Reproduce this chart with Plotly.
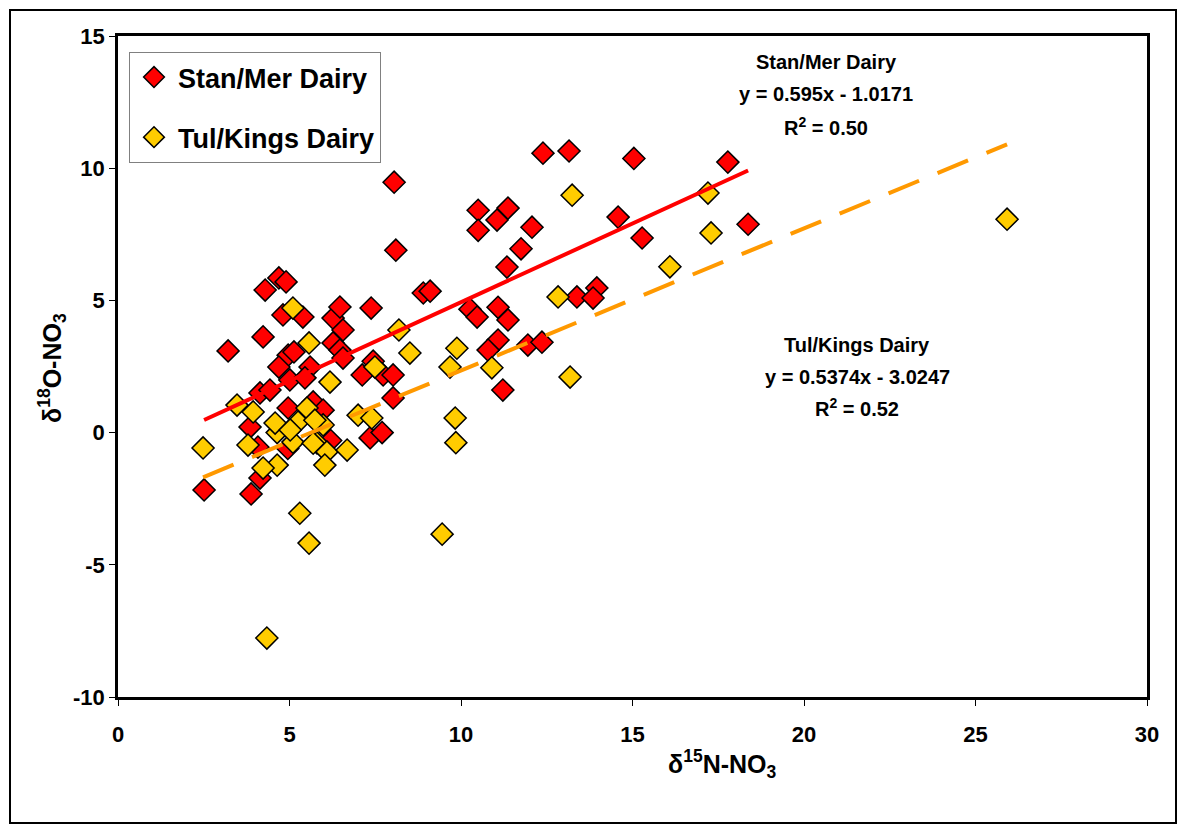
import plotly.graph_objects as go

# Stan/Mer Dairy (red)
stan_x = [2.51, 3.21, 3.88, 4.23, 4.29, 4.69, 4.90, 4.81, 5.39, 4.96, 5.13, 4.69, 5.60, 5.01, 5.45,
          6.27, 6.47, 6.56, 6.27, 6.47, 6.56, 7.38, 7.12, 7.44, 7.73, 8.02, 8.02, 4.14, 4.43, 4.96,
          5.69, 5.98, 3.85, 7.35, 7.70, 4.14, 4.08, 4.95, 6.20, 8.90, 9.10, 8.05, 8.10, 10.26, 10.47,
          11.08, 11.37, 11.08, 10.79, 11.22, 11.95, 12.36, 11.34, 11.75, 10.50, 11.37, 11.05, 10.50,
          12.07, 12.39, 13.15, 15.04, 13.38, 13.96, 13.85, 14.58, 15.28, 17.78, 18.37]
stan_y = [-2.17, 3.09, -2.32, 3.62, 5.39, 5.85, 5.70, 4.45, 4.37, 2.93, 3.05, 2.48, 2.48, 1.99, 2.07,
          4.33, 4.75, 3.88, 3.39, 3.12, 2.82, 4.71, 2.18, 2.70, 2.18, 2.18, 1.31, 1.50, 1.61, 0.93,
          1.16, 0.85, 0.21, -0.20, 0.00, -1.72, -0.55, -0.60, -0.30, 5.28, 5.35, 9.47, 6.90, 4.67, 4.37,
          4.74, 4.26, 3.50, 3.12, 1.61, 3.31, 3.42, 6.26, 6.95, 8.41, 8.49, 8.04, 7.65,
          7.77, 10.57, 10.65, 10.37, 5.13, 5.47, 5.09, 8.15, 7.36, 10.23, 7.88]

# Tul/Kings Dairy (yellow)
tul_x = [2.48, 3.47, 3.94, 3.79, 4.64, 4.58, 4.64, 4.23, 5.25, 5.10, 5.51, 5.80, 5.98, 6.09, 6.68,
         6.03, 5.10, 5.57, 6.18, 7.49, 8.19, 8.51, 5.30, 5.57, 9.45, 4.34, 9.88, 9.68, 10.90, 9.83,
         9.85, 12.83, 13.24, 13.18, 17.20, 17.29, 16.09, 25.92, 5.74, 5.69, 7.00, 7.40, 5.02]
tul_y = [-0.58, 1.04, 0.78, -0.47, 0.00, 0.36, -1.23, -1.34, 0.40, -0.36, 0.93, -0.39, 0.29, -0.73, -0.66,
         -1.23, 4.71, 3.39, 1.91, 2.48, 3.88, 3.01, -3.05, -4.18, -3.84, -7.77, 3.19, 2.48, 2.45, 0.55,
         -0.38, 5.13, 8.98, 2.10, 9.06, 7.55, 6.27, 8.07, 0.47, -0.40, 0.66, 0.55, 0.10]

stan_fit = (0.595, -1.0171)
tul_fit = (0.5374, -3.0247)

x_ticks = [0, 5, 10, 15, 20, 25, 30]
y_ticks = [-10, -5, 0, 5, 10, 15]

FONT = "Arial, Liberation Sans, sans-serif"

fig = go.Figure()
mk = dict(symbol="diamond", size=17, line=dict(color="black", width=1.5))
fig.add_trace(go.Scatter(x=stan_x, y=stan_y, mode="markers", name="<b>Stan/Mer Dairy</b>",
                         legendgroup="a", marker=dict(color="#FF0000", **mk)))
fig.add_trace(go.Scatter(x=tul_x, y=tul_y, mode="markers", name="<b>Tul/Kings Dairy</b>",
                         legendgroup="b", marker=dict(color="#FFCC00", **mk)))

sx = [min(stan_x), max(stan_x)]
fig.add_trace(go.Scatter(x=sx, y=[stan_fit[0] * v + stan_fit[1] for v in sx], mode="lines",
                         line=dict(color="#FF0000", width=4), showlegend=False, hoverinfo="skip"))
tx = [min(tul_x), max(tul_x)]
fig.add_trace(go.Scatter(x=tx, y=[tul_fit[0] * v + tul_fit[1] for v in tx], mode="lines",
                         line=dict(color="#FF9900", width=4, dash="33px,20px"), showlegend=False,
                         hoverinfo="skip"))

W, H = 1177, 824
L, R, T, B = 118, 30, 36, 127
pw, ph = W - L - R, H - T - B

def px2paper(px, py):
    return (px - L) / pw, (H - B - py) / ph

ann = []
for cx, cy, txt in [(826, 62, "Stan/Mer Dairy"), (826, 94, "y = 0.595x - 1.0171"),
                    (826, 126, "R<sup>2</sup> = 0.50"),
                    (857, 345, "Tul/Kings Dairy"), (857, 377, "y = 0.5374x - 3.0247"),
                    (857, 408, "R<sup>2</sup> = 0.52")]:
    ax, ay = px2paper(cx, cy)
    ann.append(dict(x=ax, y=ay, xref="paper", yref="paper", text="<b>" + txt + "</b>",
                    showarrow=False, xanchor="center", yanchor="middle",
                    font=dict(family=FONT, size=20, color="black")))

yx, yy = px2paper(52, 368)
ann.append(dict(x=yx, y=yy, xref="paper", yref="paper",
                text="<b>δ<sup>18</sup>O-NO<sub>3</sub></b>", textangle=-90, showarrow=False,
                xanchor="center", yanchor="middle", font=dict(family=FONT, size=25, color="black")))
xx, xy = px2paper(722, 764)
ann.append(dict(x=xx, y=xy, xref="paper", yref="paper",
                text="<b>δ<sup>15</sup>N-NO<sub>3</sub></b>", showarrow=False,
                xanchor="center", yanchor="middle", font=dict(family=FONT, size=25, color="black")))

ox0, oy0 = px2paper(10, 10)
ox1, oy1 = px2paper(1176, 823)

fig.update_layout(
    width=W, height=H,
    margin=dict(l=L, r=R, t=T, b=B),
    paper_bgcolor="white", plot_bgcolor="white",
    font=dict(family=FONT, color="black"),
    showlegend=True,
    legend=dict(x=(129 - L) / pw, y=(H - B - 52) / ph, xanchor="left", yanchor="top",
                bgcolor="white", bordercolor="#808080", borderwidth=1,
                font=dict(family=FONT, size=27, color="black"),
                traceorder="grouped", tracegroupgap=22, itemwidth=38),
    annotations=ann,
    shapes=[dict(type="rect", xref="paper", yref="paper", x0=ox0, y0=oy0, x1=ox1, y1=oy1,
                 line=dict(color="black", width=2), layer="below")],
    xaxis=dict(range=[0, 30], tickvals=x_ticks, ticktext=["<b>%d</b>" % v for v in x_ticks],
               showgrid=False, zeroline=False, showline=True, linecolor="black", linewidth=2.5,
               mirror=True, ticks="outside", ticklen=6, tickcolor="black", ticklabelstandoff=10,
               tickfont=dict(family=FONT, size=22, color="black")),
    yaxis=dict(range=[-10, 15], tickvals=y_ticks, ticktext=["<b>%d</b>" % v for v in y_ticks],
               showgrid=False, zeroline=False, showline=True, linecolor="black", linewidth=2.5,
               mirror=True, ticks="outside", ticklen=6, tickcolor="black",
               tickfont=dict(family=FONT, size=22, color="black")),
)

fig.write_html("out.html")
